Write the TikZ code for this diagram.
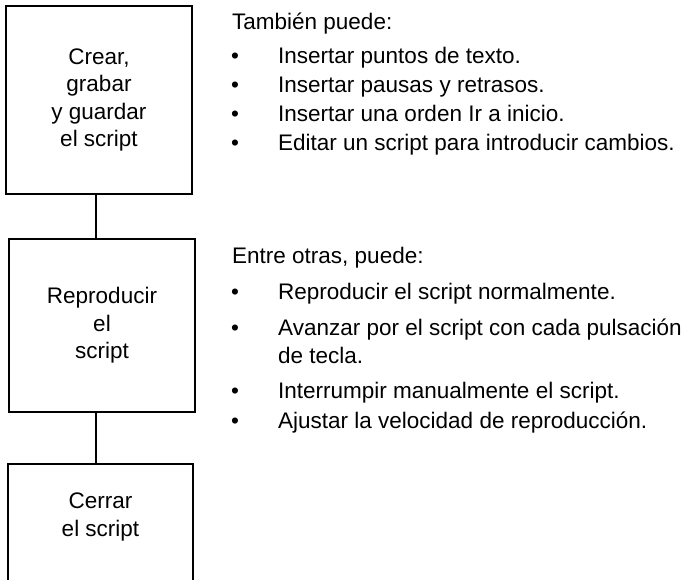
\documentclass[tikz,border=0pt]{standalone}
\usepackage{fontspec}
\setmainfont{Liberation Sans}
\begin{document}
\begin{tikzpicture}[x=1pt,y=-1pt,
  box/.style={draw=black, line width=2pt, inner sep=0pt, align=center,
    font=\fontsize{22.5}{27.5}\selectfont},
  conn/.style={draw=black, line width=2.5pt},
  txt/.style={anchor=base west, inner sep=0pt, font=\fontsize{22.5}{27}\selectfont},
  bul/.style={anchor=base west, inner sep=0pt, font=\fontsize{22.5}{27}\selectfont}]
\useasboundingbox (0,0) rectangle (686,580);
% boxes
\node[box, minimum width=186pt, minimum height=188pt] (b1) at (99,100)
  {Crear,\\grabar\\y guardar\\el script};
\node[box, minimum width=186pt, minimum height=173pt] (b2) at (102,325.5)
  {Reproducir\\el\\script};
\node[box, minimum width=185pt, minimum height=160pt, anchor=north] (b3) at (100.5,463) {};
\node[box, draw=none] (b3t) at (100.5,517) {Cerrar\\el script};
% connectors
\coordinate (cx) at (96,0);
\draw[conn] (b1.south -| cx) -- (b2.north -| cx);
\draw[conn] (b2.south -| cx) -- (b3.north -| cx);
% first list
\node[txt] (h1) at (232,30) {También puede:};
\node[bul] (p1) at (231,64) {•};
\node[txt] (t1) at (278,64) {Insertar puntos de texto.};
\node[bul] (p2) at (231,93) {•};
\node[txt] (t2) at (278,93) {Insertar pausas y retrasos.};
\node[bul] (p3) at (231,122) {•};
\node[txt] (t3) at (278,122) {Insertar una orden Ir a inicio.};
\node[bul] (p4) at (231,151) {•};
\node[txt] (t4) at (278,151) {Editar un script para introducir cambios.};
% second list
\node[txt] (h2) at (232,264) {Entre otras, puede:};
\node[bul] (q1) at (231,300) {•};
\node[txt] (s1) at (278,300) {Reproducir el script normalmente.};
\node[bul] (q2) at (231,335) {•};
\node[txt] (s2) at (278,335) {Avanzar por el script con cada pulsación};
\node[txt] (s2b) at (278,363) {de tecla.};
\node[bul] (q3) at (231,399) {•};
\node[txt] (s3) at (278,399) {Interrumpir manualmente el script.};
\node[bul] (q4) at (231,428) {•};
\node[txt] (s4) at (278,428) {Ajustar la velocidad de reproducción.};
\end{tikzpicture}
\end{document}
